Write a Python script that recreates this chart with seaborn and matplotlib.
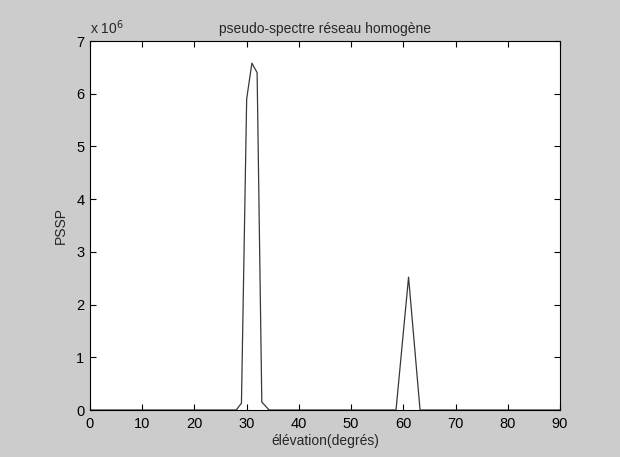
import matplotlib
matplotlib.use("Agg")
import matplotlib.pyplot as plt
import matplotlib.ticker as mticker
import seaborn as sns
import pandas as pd

# data (PSSP in units of 1e6)
elevation = [0, 28, 29, 30, 31, 32, 32.9, 34.3, 58.6, 61, 63.2, 90]
pssp_e6 = [0, 0, 0.13, 5.9, 6.58, 6.4, 0.15, 0, 0, 2.52, 0, 0]

x_ticks = [0, 10, 20, 30, 40, 50, 60, 70, 80, 90]
y_ticks = [0, 1, 2, 3, 4, 5, 6, 7]

title = "pseudo-spectre réseau homogène"
xlabel = "élévation(degrés)"
ylabel = "PSSP"

sns.set_style("ticks")
plt.rcParams["font.family"] = ["Liberation Sans", "DejaVu Sans"]

df = pd.DataFrame({"elev": elevation, "pssp": [v * 1e6 for v in pssp_e6]})

bg = "#cccccc"
fig = plt.figure(figsize=(6.2, 4.57), dpi=100, facecolor=bg)
ax = fig.add_axes([90 / 620, 1 - 410 / 457, 470 / 620, 369 / 457])
ax.set_facecolor("white")

sns.lineplot(data=df, x="elev", y="pssp", ax=ax, color="#383838",
             linewidth=0.9, sort=False, estimator=None)

ax.set_xlim(0, 90)
ax.set_ylim(0, 7e6)
ax.set_xticks(x_ticks)
ax.set_yticks([v * 1e6 for v in y_ticks])
ax.yaxis.set_major_formatter(mticker.FuncFormatter(lambda v, p: f"{v / 1e6:g}"))
ax.tick_params(direction="in", length=4, width=0.8, top=True, right=True,
               labelsize=10.5, colors="black")
ax.tick_params(axis="x", pad=5)
ax.tick_params(axis="y", pad=4)
for s in ax.spines.values():
    s.set_visible(True)
    s.set_linewidth(0.8)
    s.set_color("black")

ax.set_title(title, fontsize=10, pad=6)
ax.set_xlabel(xlabel, fontsize=10, labelpad=2)
ax.set_ylabel(ylabel, fontsize=10, labelpad=6)
ax.text(0.0, 1.012, "x 10$^{6}$", transform=ax.transAxes, fontsize=10,
        ha="left", va="bottom")

fig.savefig("out.png", dpi=100, facecolor=bg)
